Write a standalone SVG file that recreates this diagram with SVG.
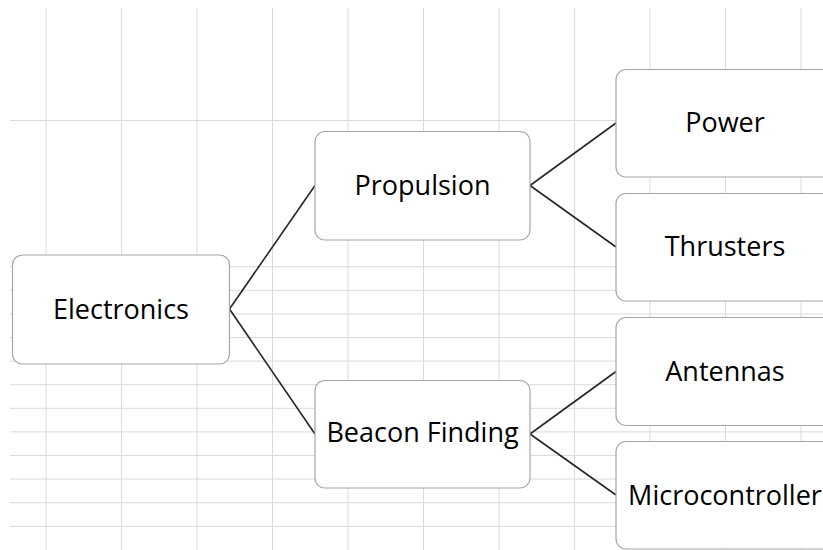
<svg xmlns="http://www.w3.org/2000/svg" width="823" height="550" viewBox="0 0 823 550">
<style>
.grid line{stroke:#dadada;stroke-width:1}
.box{fill:#ffffff;stroke:#a6a6a6;stroke-width:1.2}
.lbl{font-family:"Open Sans","Noto Sans","Liberation Sans",sans-serif;font-size:27px;fill:#000000;text-anchor:middle}
.conn line{stroke:#262626;stroke-width:1.6;fill:none}
</style>
<rect x="0" y="0" width="823" height="550" fill="#ffffff"/>
<g class="grid" id="grid">
<line x1="46" y1="8" x2="46" y2="550"/>
<line x1="121.5" y1="8" x2="121.5" y2="550"/>
<line x1="197" y1="8" x2="197" y2="550"/>
<line x1="272.5" y1="8" x2="272.5" y2="550"/>
<line x1="348" y1="8" x2="348" y2="550"/>
<line x1="423.5" y1="8" x2="423.5" y2="550"/>
<line x1="499" y1="8" x2="499" y2="550"/>
<line x1="574.5" y1="8" x2="574.5" y2="550"/>
<line x1="650" y1="8" x2="650" y2="550"/>
<line x1="725.5" y1="8" x2="725.5" y2="550"/>
<line x1="801" y1="8" x2="801" y2="550"/>
<line x1="10" y1="120.5" x2="823" y2="120.5"/>
<line x1="10" y1="266.7" x2="823" y2="266.7"/>
<line x1="10" y1="290.3" x2="823" y2="290.3"/>
<line x1="10" y1="313.9" x2="823" y2="313.9"/>
<line x1="10" y1="337.5" x2="823" y2="337.5"/>
<line x1="10" y1="361.1" x2="823" y2="361.1"/>
<line x1="10" y1="384.7" x2="823" y2="384.7"/>
<line x1="10" y1="408.3" x2="823" y2="408.3"/>
<line x1="10" y1="431.9" x2="823" y2="431.9"/>
<line x1="10" y1="455.5" x2="823" y2="455.5"/>
<line x1="10" y1="479.1" x2="823" y2="479.1"/>
<line x1="10" y1="502.7" x2="823" y2="502.7"/>
<line x1="10" y1="526.3" x2="823" y2="526.3"/>
</g>
<g class="conn" id="connectors">
<line x1="229.5" y1="309" x2="315" y2="185.5"/>
<line x1="229.5" y1="309" x2="315" y2="434"/>
<line x1="530" y1="185.5" x2="616" y2="123"/>
<line x1="530" y1="185.5" x2="616" y2="247"/>
<line x1="530" y1="434" x2="616" y2="371.5"/>
<line x1="530" y1="434" x2="616" y2="495"/>
</g>
<g id="electronics">
<rect class="box" x="12.5" y="255" width="217" height="109" rx="10"/>
<text class="lbl" x="121" y="318.5">Electronics</text>
</g>
<g id="propulsion">
<rect class="box" x="315" y="131.5" width="215" height="108.5" rx="10"/>
<text class="lbl" x="422.5" y="194.5">Propulsion</text>
</g>
<g id="beacon">
<rect class="box" x="315" y="380.5" width="215" height="107.5" rx="10"/>
<text class="lbl" x="422.5" y="442">Beacon Finding</text>
</g>
<g id="power">
<rect class="box" x="616" y="69.5" width="218" height="107.5" rx="10"/>
<text class="lbl" x="725" y="132">Power</text>
</g>
<g id="thrusters">
<rect class="box" x="616" y="193.5" width="218" height="107.5" rx="10"/>
<text class="lbl" x="725" y="255.5">Thrusters</text>
</g>
<g id="antennas">
<rect class="box" x="616" y="317.5" width="218" height="108" rx="10"/>
<text class="lbl" x="725" y="381">Antennas</text>
</g>
<g id="microcontroller">
<rect class="box" x="616" y="441.5" width="218" height="107.5" rx="10"/>
<text class="lbl" x="725" y="505">Microcontroller</text>
</g>
</svg>
